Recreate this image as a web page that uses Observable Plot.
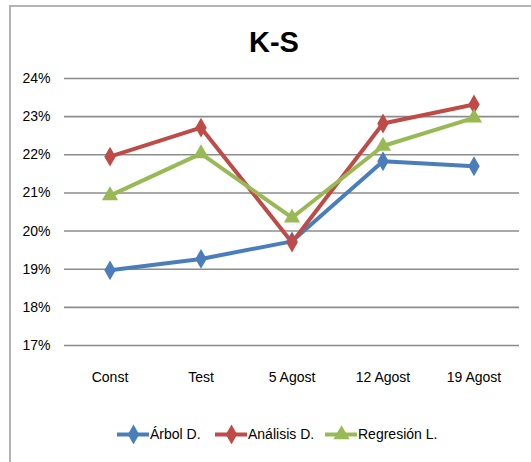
<!DOCTYPE html>
<html>
<head>
<meta charset="utf-8">
<script src="https://cdn.jsdelivr.net/npm/d3@7"></script>
<script src="https://cdn.jsdelivr.net/npm/@observablehq/plot@0.6"></script>
<style>
  html, body { margin: 0; padding: 0; background: #fff; }
  #wrap { position: relative; width: 531px; height: 462px; overflow: hidden; font-family: "Liberation Sans Narrow", "Arial Narrow", "Liberation Sans", sans-serif; }
  #frame { position: absolute; left: 9px; top: 5px; width: 540px; height: 480px; border: 2px solid #b4b4b4; box-sizing: border-box; }
  #title { position: absolute; left: 0; width: 548px; top: 26px; text-align: center; font-size: 29px; font-weight: bold; color: #000; }
  #legend { position: absolute; top: 424px; left: 0; width: 531px; height: 20px; font-size: 14px; color: #000; }
  .item { position: absolute; display: flex; align-items: center; }
  #chart { position: absolute; left: 0; top: 0; }
</style>
</head>
<body>
<div id="wrap">
  <div id="frame"></div>
  <div id="chart"></div>
  <div id="title">K-S</div>
  <div id="legend"></div>
</div>
<script>
const categories = ["Const", "Test", "5 Agost", "12 Agost", "19 Agost"];
const seriesNames = ["Árbol D.", "Análisis D.", "Regresión L."];
const arbol = [18.97, 19.27, 19.73, 21.83, 21.70];
const analisis = [21.95, 22.71, 19.70, 22.82, 23.32];
const regresion = [20.93, 22.03, 20.35, 22.23, 22.97];
const yTicks = [17, 18, 19, 20, 21, 22, 23, 24];
const colors = ["#4a7ebb", "#be4b48", "#98b954"];
const symbols = ["diamond", "diamond", "triangle"];

const seriesValues = [arbol, analisis, regresion];
const data = [];
seriesNames.forEach((s, i) => {
  categories.forEach((c, j) => data.push({series: s, cat: c, value: seriesValues[i][j]}));
});

const fontFamily = '"Liberation Sans Narrow", "Arial Narrow", "Liberation Sans", sans-serif';

const chart = Plot.plot({
  width: 531,
  height: 462,
  marginTop: 78,
  marginBottom: 117,
  marginLeft: 64,
  marginRight: 12,
  style: {fontFamily, fontSize: "14px", color: "#000", background: "transparent"},
  x: {type: "band", domain: categories, padding: 0},
  y: {domain: [17, 24]},
  color: {domain: seriesNames, range: colors},
  symbol: {domain: seriesNames, range: symbols},
  marks: [
    Plot.ruleY(yTicks, {stroke: "#8c8c8c", strokeWidth: 1.6}),
    Plot.axisY({ticks: yTicks, tickFormat: d => d + "%", tickSize: 0, tickPadding: 14, fontSize: 14, label: null}),
    Plot.axisX({tickSize: 0, tickPadding: 27, fontSize: 14, label: null}),
    Plot.line(data, {x: "cat", y: "value", z: "series", stroke: "series", strokeWidth: 4}),
    Plot.dot(data, {x: "cat", y: "value", fill: "series", symbol: "series", r: 6, stroke: null})
  ]
});
document.getElementById("chart").appendChild(chart);

// legend
const legend = document.getElementById("legend");
const lefts = [117, 215, 325];
seriesNames.forEach((s, i) => {
  const item = document.createElement("div");
  item.className = "item";
  item.style.left = lefts[i] + "px";
  const sw = Plot.plot({
    width: 32, height: 20, margin: 0,
    x: {domain: [0, 1], axis: null}, y: {domain: [0, 1], axis: null},
    style: {background: "transparent"},
    marks: [
      Plot.ruleY([0.5], {x1: 0, x2: 1, stroke: colors[i], strokeWidth: 4}),
      Plot.dot([0.5], {x: 0.5, y: 0.5, fill: colors[i], symbol: symbols[i], r: 6})
    ]
  });
  item.appendChild(sw);
  const t = document.createElement("span");
  t.textContent = s;
  t.style.marginLeft = "1px";
  item.appendChild(t);
  legend.appendChild(item);
});
</script>
</body>
</html>
